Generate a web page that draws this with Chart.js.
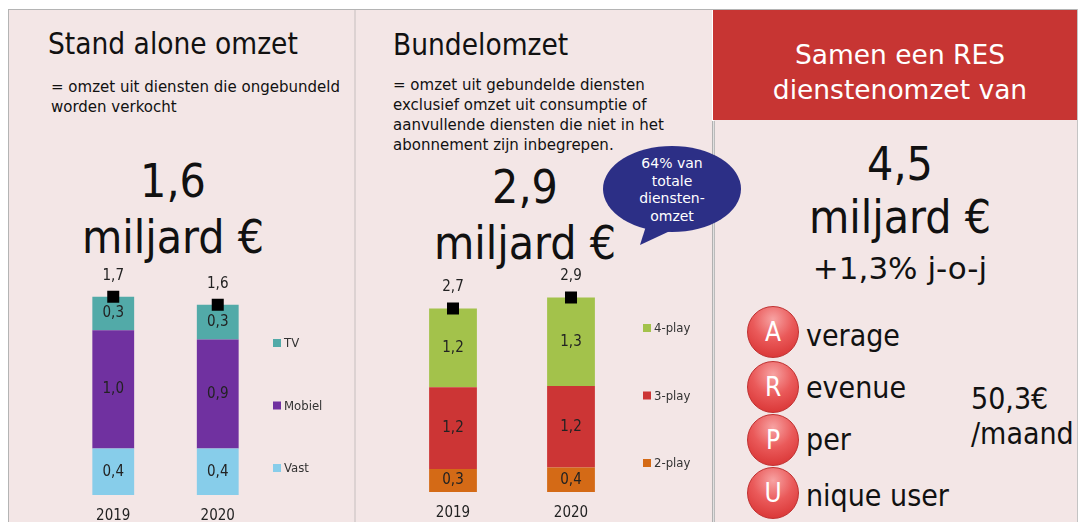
<!DOCTYPE html>
<html>
<head>
<meta charset="utf-8">
<script src="https://cdn.jsdelivr.net/npm/chart.js@4"></script>
<style>
  html, body { margin: 0; padding: 0; }
  body { width: 1079px; height: 522px; overflow: hidden; position: relative; background: #fff;
         font-family: "DejaVu Sans Condensed", "DejaVu Sans", sans-serif; color: #111; }
  .abs { position: absolute; white-space: nowrap; }
  .panel { position: absolute; top: 10px; height: 520px; background: #f3e6e6; }
  .sep { position: absolute; width: 2px; background: #dcd2d2; }
  .big { font-size: 46px; line-height: 56px; text-align: center; }
  .sub { font-family: "DejaVu Sans", sans-serif; font-size: 15px; line-height: 20px; }
  .title { font-size: 29.5px; line-height: 34px; }
  .ball { position: absolute; width: 52px; height: 52px; border-radius: 50%;
          background: radial-gradient(circle at 50% 25%, #f7a3a3 0%, #ea5a5a 45%, #d42a2a 100%);
          border: 1px solid #c03030; box-sizing: border-box;
          color: #fff; font-size: 26px; line-height: 50px; text-align: center; }
  .arpu { font-size: 30px; line-height: 36px; }
</style>
</head>
<body>
<!-- frame -->
<div class="abs" style="left:8px;top:9px;width:1070px;height:1px;background:#b4b4b4"></div>
<div class="abs" style="left:8px;top:9px;width:1px;height:520px;background:#b4b4b4"></div>
<div class="abs" style="left:1077px;top:9px;width:1px;height:520px;background:#c4c4c4"></div>

<div class="panel" style="left:9px;width:346px"></div>
<div class="panel" style="left:356px;width:356px"></div>
<div class="panel" style="left:714px;width:363px"></div>
<div class="sep" style="left:354px;top:10px;height:520px"></div>
<div class="abs" style="left:712px;top:121px;width:3px;height:410px;background:linear-gradient(90deg,#9a9a9a,#e0e0e0,#a8a8a8)"></div>
<div class="abs" style="left:713px;top:10px;width:364px;height:110px;background:#c73533"></div>

<!-- panel 1 text -->
<div class="abs title" style="left:48px;top:27px">Stand alone omzet</div>
<div class="abs sub" style="left:51px;top:77px">= omzet uit diensten die ongebundeld<br>worden verkocht</div>
<div class="abs big" style="left:48px;width:250px;top:153px">1,6<br>miljard €</div>

<!-- panel 2 text -->
<div class="abs title" style="left:393px;top:28px">Bundelomzet</div>
<div class="abs sub" style="left:393px;top:75px">= omzet uit gebundelde diensten<br>exclusief omzet uit consumptie of<br>aanvullende diensten die niet in het<br>abonnement zijn inbegrepen.</div>
<div class="abs big" style="left:400px;width:250px;top:159px">2,9<br>miljard €</div>

<svg class="abs" style="left:0;top:0" width="1079" height="522">
  <path d="M646 226 L640 245 L670 231 Z" fill="#2c2f86"/>
  <ellipse cx="672" cy="189" rx="69" ry="43" fill="#2c2f86"/>
</svg>
<div class="abs" style="left:612px;width:120px;top:155px;text-align:center;color:#fff;font-family:'DejaVu Sans',sans-serif;font-size:14px;line-height:17.5px">64% van<br>totale<br>diensten-<br>omzet</div>

<!-- panel 3 text -->
<div class="abs" style="left:713px;width:374px;top:37px;text-align:center;color:#fff;font-family:'DejaVu Sans',sans-serif;font-size:26.5px;line-height:35px">Samen een RES<br>dienstenomzet van</div>
<div class="abs big" style="left:713px;width:374px;top:138px;line-height:53px">4,5<br>miljard €</div>
<div class="abs" style="left:713px;width:374px;top:251px;text-align:center;font-family:'DejaVu Sans',sans-serif;font-size:31px;line-height:34px">+1,3% j-o-j</div>

<div class="ball" style="left:747px;top:306px">A</div>
<div class="ball" style="left:747px;top:361px">R</div>
<div class="ball" style="left:747px;top:414px">P</div>
<div class="ball" style="left:747px;top:467px">U</div>
<div class="abs arpu" style="left:806px;top:318px">verage</div>
<div class="abs arpu" style="left:806px;top:370px">evenue</div>
<div class="abs arpu" style="left:806px;top:422px">per</div>
<div class="abs arpu" style="left:806px;top:478px">nique user</div>
<div class="abs arpu" style="left:971px;top:381px;line-height:35px">50,3€<br>/maand</div>

<!-- charts -->
<div class="abs" style="left:10px;top:230px;width:345px;height:307px"><canvas id="standAlone"></canvas></div>
<div class="abs" style="left:356px;top:220px;width:356px;height:314px"><canvas id="bundel"></canvas></div>

<script>
const FONT = '"DejaVu Sans Condensed", "DejaVu Sans", sans-serif';

const years = ['2019', '2020'];
// stand alone omzet (miljard €)
const vast = [0.40, 0.40];
const mobiel = [1.02, 0.94];
const tv = [0.29, 0.30];
// bundelomzet (miljard €)
const twoPlay = [0.34, 0.36];
const threePlay = [1.20, 1.20];
const fourPlay = [1.16, 1.30];

function fmt(v) {
    return v.toFixed(1).replace('.', ',');
}

function totals(...parts) {
    return years.map((y, i) => parts.reduce((s, p) => s + p[i], 0));
}

// draws the values in/above the bars and the legend on the right
const barLabels = {
    id: 'barLabels',
    afterDatasetsDraw(chart, args, opts) {
        const ctx = chart.ctx;
        ctx.save();
        ctx.textAlign = 'center';
        ctx.textBaseline = 'middle';
        ctx.font = '15px ' + FONT;
        chart.data.datasets.forEach((ds, i) => {
            let meta = chart.getDatasetMeta(i);
            meta.data.forEach((el, j) => {
                ctx.fillStyle = '#222';
                if (ds.type === 'line') {
                    ctx.fillText(fmt(ds.data[j]), el.x, el.y - 21);
                } else {
                    ctx.fillText(fmt(ds.data[j]), el.x, (el.y + el.base) / 2);
                }
            });
        });
        let area = chart.chartArea;
        let bars = chart.data.datasets.filter(d => d.type !== 'line');
        ctx.font = '13px ' + FONT;
        ctx.textAlign = 'left';
        bars.forEach((ds, k) => {
            let y = area.bottom - opts.first - k * opts.step;
            let x = area.right + opts.gap;
            ctx.fillStyle = ds.backgroundColor;
            ctx.fillRect(x, y - 4, 8, 8);
            ctx.fillStyle = '#333';
            ctx.fillText(ds.label, x + 11, y + 1);
        });
        ctx.restore();
    }
};

function stackChart(id, series, maxY, pad, legendOpts) {
    let ctx = document.getElementById(id).getContext('2d');
    let datasets = [{
        type: 'line',
        label: 'Totaal',
        data: totals(...series.map(s => s.data)),
        showLine: false,
        pointStyle: 'rect',
        pointRadius: 8.5,
        pointBackgroundColor: '#000',
        pointBorderWidth: 0,
        order: -1
    }];
    series.forEach(s => {
        datasets.push({
            type: 'bar',
            label: s.label,
            data: s.data,
            backgroundColor: s.color,
            borderWidth: 0,
            categoryPercentage: 1,
            barPercentage: pad.bar
        });
    });
    return new Chart(ctx, {
        type: 'bar',
        data: { labels: years, datasets: datasets },
        options: {
            responsive: true,
            maintainAspectRatio: false,
            animation: false,
            layout: { padding: { left: pad.left, right: pad.right, top: pad.top, bottom: 0 } },
            plugins: {
                legend: { display: false },
                tooltip: { enabled: false },
                barLabels: legendOpts
            },
            scales: {
                x: {
                    stacked: true,
                    grid: { display: false, drawTicks: false },
                    border: { display: false },
                    ticks: { color: '#222', padding: 12, font: { family: FONT, size: 15 } }
                },
                y: { stacked: true, display: false, min: 0, max: maxY }
            }
        },
        plugins: [barLabels]
    });
}

stackChart('standAlone', [
    { label: 'Vast', data: vast, color: '#87cdea' },
    { label: 'Mobiel', data: mobiel, color: '#7031a0' },
    { label: 'TV', data: tv, color: '#52aaa8' }
], 2.0, { left: 51, right: 85, top: 33, bar: 0.40 }, { gap: 3, first: 27, step: 62.5 });

stackChart('bundel', [
    { label: '2-play', data: twoPlay, color: '#d46a16' },
    { label: '3-play', data: threePlay, color: '#cc3535' },
    { label: '4-play', data: fourPlay, color: '#a3c24b' }
], 3.5, { left: 38, right: 82, top: 34, bar: 0.405 }, { gap: 13, first: 29, step: 67.5 });
</script>
</body>
</html>
